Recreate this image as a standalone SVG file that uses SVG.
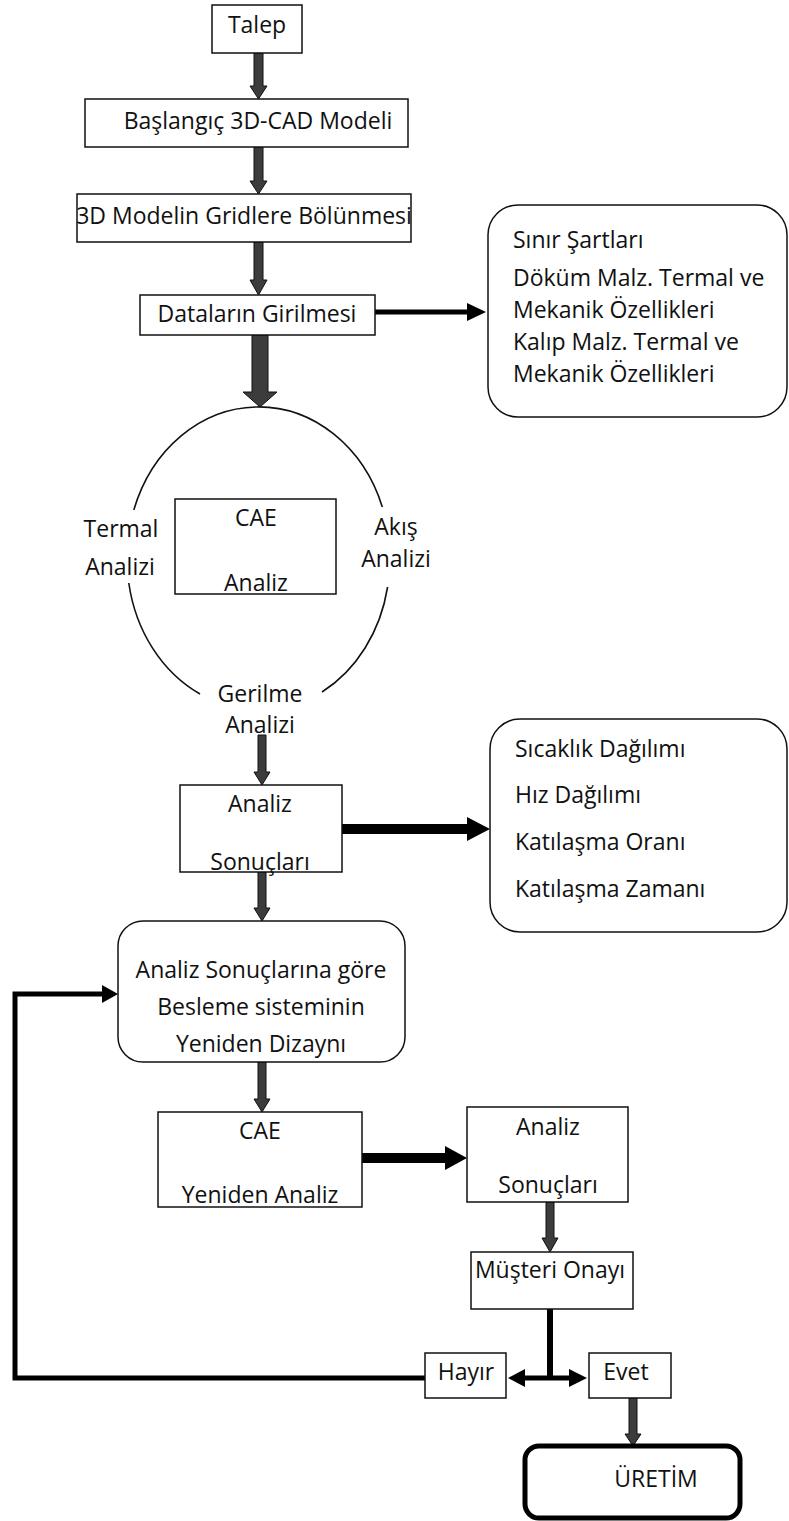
<svg xmlns="http://www.w3.org/2000/svg" width="789" height="1521" viewBox="0 0 789 1521">
<style>
  text { font-family: "Open Sans", "Noto Sans", "DejaVu Sans", sans-serif; font-size: 23px; fill: #111; }
  .c { text-anchor: middle; }
  .box { fill: #fff; stroke: #111; stroke-width: 1.5; }
  .thick { fill: none; stroke: #000; stroke-linecap: butt; }
  .blk { fill: #3c3c3c; stroke: #111; stroke-width: 1; }
  .head { fill: #000; }
  .arc { fill: none; stroke: #111; stroke-width: 1.6; }
</style>
<rect x="0" y="0" width="789" height="1521" fill="#fff"/>

<g id="connectors">
  <!-- block arrows -->
  <polygon class="blk" points="254,53 263,53 263,86 267,86 258.5,99 250,86 254,86"/>
  <polygon class="blk" points="254,147 263,147 263,181 267,181 258.5,194 250,181 254,181"/>
  <polygon class="blk" points="254,242 263,242 263,280 267,280 258.5,295 250,280 254,280"/>
  <polygon class="blk" points="252,335 268,335 268,392 277,392 260,407 243,392 252,392"/>
  <polygon class="blk" points="258,735 266,735 266,772 270,772 262,785 254,772 258,772"/>
  <polygon class="blk" points="258,872 266,872 266,908 270,908 262,921 254,908 258,908"/>
  <polygon class="blk" points="258,1062 266,1062 266,1099 270,1099 262,1112 254,1099 258,1099"/>
  <polygon class="blk" points="546,1202 554,1202 554,1238 558,1238 550,1252 542,1238 546,1238"/>
  <polygon class="blk" points="629,1398 637,1398 637,1434 641,1434 633,1446 625,1434 629,1434"/>
  <!-- thick black arrows -->
  <line class="thick" x1="375" y1="312" x2="468" y2="312" stroke-width="5"/>
  <polygon class="head" points="467,303 486,312 467,321"/>
  <line class="thick" x1="342" y1="829" x2="468" y2="829" stroke-width="10"/>
  <polygon class="head" points="467,817 490,829 467,841"/>
  <line class="thick" x1="362" y1="1158" x2="446" y2="1158" stroke-width="10"/>
  <polygon class="head" points="445,1146 467,1158 445,1170"/>
  <polyline class="thick" points="425,1378 15,1378 15,994 103,994" stroke-width="5" stroke-linejoin="miter"/>
  <polygon class="head" points="102,985 118,994 102,1003"/>
  <line class="thick" x1="550" y1="1309" x2="550" y2="1378" stroke-width="6"/>
  <line class="thick" x1="524" y1="1378" x2="570" y2="1378" stroke-width="5"/>
  <polygon class="head" points="525,1369 508,1378 525,1387"/>
  <polygon class="head" points="569,1369 587,1378 569,1387"/>
</g>

<g id="talep">
  <rect class="box" x="212" y="5" width="90" height="48"/>
  <text class="c" x="257" y="33">Talep</text>
</g>
<g id="baslangic">
  <rect class="box" x="85" y="99" width="323" height="48"/>
  <text class="c" x="258" y="129">Başlangıç 3D-CAD Modeli</text>
</g>
<g id="gridler">
  <rect class="box" x="77" y="194" width="334" height="48"/>
  <text class="c" x="244" y="224">3D Modelin Gridlere Bölünmesi</text>
</g>
<g id="datalar">
  <rect class="box" x="140" y="295" width="235" height="40"/>
  <text class="c" x="257" y="322">Dataların Girilmesi</text>
</g>
<g id="sinir">
  <rect class="box" x="488" y="205" width="299" height="212" rx="30" ry="30"/>
  <text x="513" y="248">Sınır Şartları</text>
  <text x="513" y="286">Döküm Malz. Termal ve</text>
  <text x="513" y="318">Mekanik Özellikleri</text>
  <text x="513" y="350">Kalıp Malz. Termal ve</text>
  <text x="513" y="382">Mekanik Özellikleri</text>
</g>
<g id="cae-analiz">
  <path class="arc" d="M133.8,510 A131.5,151 0 0 1 382.3,507"/>
  <path class="arc" d="M387.6,587 A131.5,151 0 0 1 322,692"/>
  <path class="arc" d="M200,694 A131.5,151 0 0 1 128.8,583"/>
  <rect class="box" x="175" y="499" width="161" height="95"/>
  <text class="c" x="256" y="526">CAE</text>
  <text class="c" x="256" y="591">Analiz</text>
  <text class="c" x="121" y="537">Termal</text>
  <text class="c" x="120" y="575">Analizi</text>
  <text class="c" x="396" y="535">Akış</text>
  <text class="c" x="396" y="567">Analizi</text>
  <text class="c" x="260" y="702">Gerilme</text>
  <text class="c" x="260" y="733">Analizi</text>
</g>
<g id="analiz-sonuclari">
  <rect class="box" x="180" y="785" width="162" height="87"/>
  <text class="c" x="260" y="812">Analiz</text>
  <text class="c" x="260" y="870">Sonuçları</text>
</g>
<g id="sonuc-listesi">
  <rect class="box" x="490" y="719" width="297" height="213" rx="30" ry="30"/>
  <text x="515" y="757">Sıcaklık Dağılımı</text>
  <text x="515" y="803">Hız Dağılımı</text>
  <text x="515" y="850">Katılaşma Oranı</text>
  <text x="515" y="897">Katılaşma Zamanı</text>
</g>
<g id="yeniden-dizayn">
  <rect class="box" x="118" y="921" width="287" height="141" rx="25" ry="25"/>
  <text class="c" x="261" y="978">Analiz Sonuçlarına göre</text>
  <text class="c" x="261" y="1015">Besleme sisteminin</text>
  <text class="c" x="261" y="1052">Yeniden Dizaynı</text>
</g>
<g id="cae-yeniden">
  <rect class="box" x="158" y="1112" width="204" height="95"/>
  <text class="c" x="260" y="1139">CAE</text>
  <text class="c" x="260" y="1203">Yeniden Analiz</text>
</g>
<g id="analiz-sonuclari-2">
  <rect class="box" x="467" y="1107" width="161" height="95"/>
  <text class="c" x="548" y="1135">Analiz</text>
  <text class="c" x="548" y="1193">Sonuçları</text>
</g>
<g id="musteri">
  <rect class="box" x="471" y="1252" width="162" height="57"/>
  <text class="c" x="550" y="1278">Müşteri Onayı</text>
</g>
<g id="hayir">
  <rect class="box" x="425" y="1353" width="81" height="45"/>
  <text class="c" x="466" y="1380">Hayır</text>
</g>
<g id="evet">
  <rect class="box" x="589" y="1353" width="82" height="45"/>
  <text class="c" x="626" y="1380">Evet</text>
</g>
<g id="uretim">
  <rect x="525" y="1446" width="215" height="72" rx="14" ry="14" fill="#fff" stroke="#000" stroke-width="5"/>
  <text class="c" x="656" y="1487">ÜRETİM</text>
</g>
</svg>
